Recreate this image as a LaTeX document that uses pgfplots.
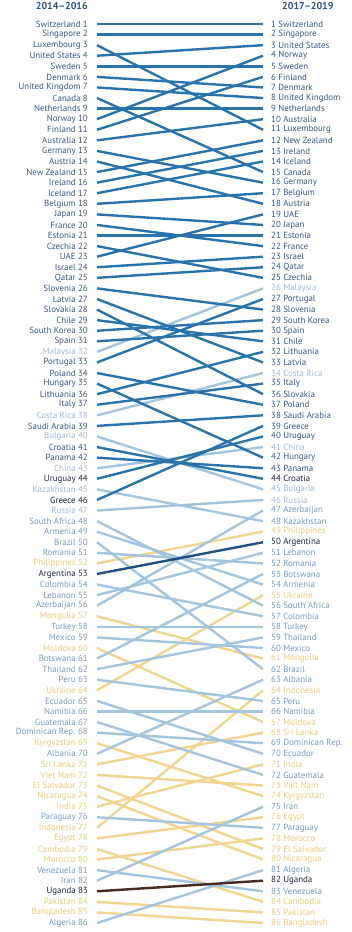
\documentclass[border=0pt]{standalone}
\usepackage{pgfplots}
\pgfplotsset{compat=1.18}
\usepackage{fontspec}
\setmainfont{PT Sans}
\definecolor{hiline}{RGB}{40,115,172}
\definecolor{umline}{RGB}{163,196,222}
\definecolor{lmline}{RGB}{242,212,145}
\definecolor{loline}{RGB}{72,42,32}
\definecolor{arline}{RGB}{30,80,130}
\definecolor{hit}{RGB}{50,88,132}
\definecolor{dkt}{RGB}{28,38,58}
\definecolor{umt}{RGB}{115,155,195}
\definecolor{umlt}{RGB}{160,186,212}
\definecolor{lmt}{RGB}{236,202,122}
\definecolor{ttl}{RGB}{40,80,125}
\newcommand{\hL}[1]{\textcolor{hit}{#1}}
\newcommand{\dL}[1]{\textcolor{dkt}{#1}}
\newcommand{\uL}[1]{\textcolor{umt}{#1}}
\newcommand{\vL}[1]{\textcolor{umlt}{#1}}
\newcommand{\yL}[1]{\textcolor{lmt}{#1}}
\begin{document}
\begin{tikzpicture}[x=1pt,y=1pt]
\useasboundingbox (0,0) rectangle (352,932);
\pgfplotsset{
  base/.style={at={(97pt,3.71pt)}, anchor=south west, scale only axis,
    width=166pt, height=909.58pt, xmin=0, xmax=1, ymin=0.5, ymax=86.5,
    y dir=reverse, clip=false, axis line style={draw=none}, xtick=\empty,
    major tick length=0pt, ytick={1,...,86},
    tick label style={font=\fontsize{8.9}{9}\selectfont, inner sep=0pt}},
  hi/.style={draw=hiline, line width=2.4pt, no marks},
  um/.style={draw=umline, line width=2.4pt, no marks},
  lm/.style={draw=lmline, line width=2.4pt, no marks},
  lo/.style={draw=loline, line width=2.4pt, no marks},
}
\begin{axis}[base, yticklabel style={anchor=east, xshift=-9pt},
  yticklabels={
{\hL{Switzerland 1}},{\hL{Singapore 2}},{\hL{Luxembourg 3}},{\hL{United States 4}},{\hL{Sweden 5}},
{\hL{Denmark 6}},{\hL{United Kingdom 7}},{\hL{Canada 8}},{\hL{Netherlands 9}},{\hL{Norway 10}},
{\hL{Finland 11}},{\hL{Australia 12}},{\hL{Germany 13}},{\hL{Austria 14}},{\hL{New Zealand 15}},
{\hL{Ireland 16}},{\hL{Iceland 17}},{\hL{Belgium 18}},{\hL{Japan 19}},{\hL{France 20}},
{\hL{Estonia 21}},{\hL{Czechia 22}},{\hL{UAE 23}},{\hL{Israel 24}},{\hL{Qatar 25}},
{\hL{Slovenia 26}},{\hL{Latvia 27}},{\hL{Slovakia 28}},{\hL{Chile 29}},{\hL{South Korea 30}},
{\hL{Spain 31}},{\vL{Malaysia 32}},{\hL{Portugal 33}},{\hL{Poland 34}},{\hL{Hungary 35}},
{\hL{Lithuania 36}},{\hL{Italy 37}},{\vL{Costa Rica 38}},{\hL{Saudi Arabia 39}},{\vL{Bulgaria 40}},
{\hL{Croatia 41}},{\hL{Panama 42}},{\vL{China 43}},{\dL{Uruguay 44}},{\vL{Kazakhstan 45}},
{\dL{Greece 46}},{\vL{Russia 47}},{\uL{South Africa 48}},{\uL{Armenia 49}},{\uL{Brazil 50}},
{\uL{Romania 51}},{\yL{Philippines 52}},{\dL{Argentina 53}},{\uL{Colombia 54}},{\uL{Lebanon 55}},
{\uL{Azerbaijan 56}},{\yL{Mongolia 57}},{\uL{Turkey 58}},{\uL{Mexico 59}},{\yL{Moldova 60}},
{\uL{Botswana 61}},{\uL{Thailand 62}},{\uL{Peru 63}},{\yL{Ukraine 64}},{\uL{Ecuador 65}},
{\uL{Namibia 66}},{\uL{Guatemala 67}},{\uL{Dominican Rep. 68}},{\yL{Kyrgyzstan 69}},{\uL{Albania 70}},
{\yL{Sri Lanka 71}},{\yL{Viet Nam 72}},{\yL{El Salvador 73}},{\yL{Nicaragua 74}},{\yL{India 75}},
{\uL{Paraguay 76}},{\yL{Indonesia 77}},{\yL{Egypt 78}},{\yL{Cambodia 79}},{\yL{Morocco 80}},
{\uL{Venezuela 81}},{\uL{Iran 82}},{\dL{Uganda 83}},{\yL{Pakistan 84}},{\yL{Bangladesh 85}},
{\uL{Algeria 86}}}]
% lower-middle income
\addplot[lm] coordinates {(0,52) (1,49)};
\addplot[lm] coordinates {(0,57) (1,61)};
\addplot[lm] coordinates {(0,60) (1,67)};
\addplot[lm] coordinates {(0,64) (1,55)};
\addplot[lm] coordinates {(0,69) (1,74)};
\addplot[lm] coordinates {(0,71) (1,68)};
\addplot[lm] coordinates {(0,72) (1,73)};
\addplot[lm] coordinates {(0,73) (1,79)};
\addplot[lm] coordinates {(0,74) (1,80)};
\addplot[lm] coordinates {(0,75) (1,71)};
\addplot[lm] coordinates {(0,77) (1,64)};
\addplot[lm] coordinates {(0,78) (1,76)};
\addplot[lm] coordinates {(0,79) (1,84)};
\addplot[lm] coordinates {(0,80) (1,78)};
\addplot[lm] coordinates {(0,84) (1,85)};
\addplot[lm] coordinates {(0,85) (1,86)};
% upper-middle income
\addplot[um] coordinates {(0,32) (1,26)};
\addplot[um] coordinates {(0,38) (1,34)};
\addplot[um] coordinates {(0,40) (1,45)};
\addplot[um] coordinates {(0,43) (1,41)};
\addplot[um] coordinates {(0,45) (1,48)};
\addplot[um] coordinates {(0,47) (1,46)};
\addplot[um] coordinates {(0,48) (1,56)};
\addplot[um] coordinates {(0,49) (1,54)};
\addplot[um] coordinates {(0,50) (1,62)};
\addplot[um] coordinates {(0,51) (1,52)};
\addplot[um] coordinates {(0,54) (1,57)};
\addplot[um] coordinates {(0,55) (1,51)};
\addplot[um] coordinates {(0,56) (1,47)};
\addplot[um] coordinates {(0,58) (1,58)};
\addplot[um] coordinates {(0,59) (1,60)};
\addplot[um] coordinates {(0,61) (1,53)};
\addplot[um] coordinates {(0,62) (1,59)};
\addplot[um] coordinates {(0,63) (1,65)};
\addplot[um] coordinates {(0,65) (1,70)};
\addplot[um] coordinates {(0,66) (1,66)};
\addplot[um] coordinates {(0,67) (1,72)};
\addplot[um] coordinates {(0,68) (1,69)};
\addplot[um] coordinates {(0,70) (1,63)};
\addplot[um] coordinates {(0,76) (1,77)};
\addplot[um] coordinates {(0,81) (1,83)};
\addplot[um] coordinates {(0,82) (1,75)};
\addplot[um] coordinates {(0,86) (1,81)};
% high income
\addplot[hi] coordinates {(0,1) (1,1)};
\addplot[hi] coordinates {(0,2) (1,2)};
\addplot[hi] coordinates {(0,3) (1,11)};
\addplot[hi] coordinates {(0,4) (1,3)};
\addplot[hi] coordinates {(0,5) (1,5)};
\addplot[hi] coordinates {(0,6) (1,7)};
\addplot[hi] coordinates {(0,7) (1,8)};
\addplot[hi] coordinates {(0,8) (1,15)};
\addplot[hi] coordinates {(0,9) (1,9)};
\addplot[hi] coordinates {(0,10) (1,4)};
\addplot[hi] coordinates {(0,11) (1,6)};
\addplot[hi] coordinates {(0,12) (1,10)};
\addplot[hi] coordinates {(0,13) (1,16)};
\addplot[hi] coordinates {(0,14) (1,18)};
\addplot[hi] coordinates {(0,15) (1,12)};
\addplot[hi] coordinates {(0,16) (1,13)};
\addplot[hi] coordinates {(0,17) (1,14)};
\addplot[hi] coordinates {(0,18) (1,17)};
\addplot[hi] coordinates {(0,19) (1,20)};
\addplot[hi] coordinates {(0,20) (1,22)};
\addplot[hi] coordinates {(0,21) (1,21)};
\addplot[hi] coordinates {(0,22) (1,25)};
\addplot[hi] coordinates {(0,23) (1,19)};
\addplot[hi] coordinates {(0,24) (1,23)};
\addplot[hi] coordinates {(0,25) (1,24)};
\addplot[hi] coordinates {(0,26) (1,28)};
\addplot[hi] coordinates {(0,27) (1,33)};
\addplot[hi] coordinates {(0,28) (1,36)};
\addplot[hi] coordinates {(0,29) (1,31)};
\addplot[hi] coordinates {(0,30) (1,29)};
\addplot[hi] coordinates {(0,31) (1,30)};
\addplot[hi] coordinates {(0,33) (1,27)};
\addplot[hi] coordinates {(0,34) (1,37)};
\addplot[hi] coordinates {(0,35) (1,42)};
\addplot[hi] coordinates {(0,36) (1,32)};
\addplot[hi] coordinates {(0,37) (1,35)};
\addplot[hi] coordinates {(0,39) (1,38)};
\addplot[hi] coordinates {(0,41) (1,44)};
\addplot[hi] coordinates {(0,42) (1,43)};
\addplot[hi] coordinates {(0,44) (1,40)};
\addplot[hi] coordinates {(0,46) (1,39)};
\addplot[hi, draw=arline] coordinates {(0,53) (1,50)};
% low income
\addplot[lo] coordinates {(0,83) (1,82)};
\end{axis}
\begin{axis}[base, yticklabel pos=right, yticklabel style={anchor=west, xshift=8pt},
  yticklabels={
{\hL{1 Switzerland}},{\hL{2 Singapore}},{\hL{3 United States}},{\hL{4 Norway}},{\hL{5 Sweden}},
{\hL{6 Finland}},{\hL{7 Denmark}},{\hL{8 United Kingdom}},{\hL{9 Netherlands}},{\hL{10 Australia}},
{\hL{11 Luxembourg}},{\hL{12 New Zealand}},{\hL{13 Ireland}},{\hL{14 Iceland}},{\hL{15 Canada}},
{\hL{16 Germany}},{\hL{17 Belgium}},{\hL{18 Austria}},{\hL{19 UAE}},{\hL{20 Japan}},
{\hL{21 Estonia}},{\hL{22 France}},{\hL{23 Israel}},{\hL{24 Qatar}},{\hL{25 Czechia}},
{\vL{26 Malaysia}},{\hL{27 Portugal}},{\hL{28 Slovenia}},{\hL{29 South Korea}},{\hL{30 Spain}},
{\hL{31 Chile}},{\hL{32 Lithuania}},{\hL{33 Latvia}},{\vL{34 Costa Rica}},{\hL{35 Italy}},
{\hL{36 Slovakia}},{\hL{37 Poland}},{\hL{38 Saudi Arabia}},{\hL{39 Greece}},{\hL{40 Uruguay}},
{\vL{41 China}},{\hL{42 Hungary}},{\hL{43 Panama}},{\dL{44 Croatia}},{\vL{45 Bulgaria}},
{\vL{46 Russia}},{\uL{47 Azerbaijan}},{\uL{48 Kazakhstan}},{\yL{49 Philippines}},{\dL{50 Argentina}},
{\uL{51 Lebanon}},{\uL{52 Romania}},{\uL{53 Botswana}},{\uL{54 Armenia}},{\yL{55 Ukraine}},
{\uL{56 South Africa}},{\uL{57 Colombia}},{\uL{58 Turkey}},{\uL{59 Thailand}},{\uL{60 Mexico}},
{\yL{61 Mongolia}},{\uL{62 Brazil}},{\uL{63 Albania}},{\yL{64 Indonesia}},{\uL{65 Peru}},
{\uL{66 Namibia}},{\yL{67 Moldova}},{\yL{68 Sri Lanka}},{\uL{69 Dominican Rep.}},{\uL{70 Ecuador}},
{\yL{71 India}},{\uL{72 Guatemala}},{\yL{73 Viet Nam}},{\yL{74 Kyrgyzstan}},{\uL{75 Iran}},
{\yL{76 Egypt}},{\uL{77 Paraguay}},{\yL{78 Morocco}},{\yL{79 El Salvador}},{\yL{80 Nicaragua}},
{\uL{81 Algeria}},{\dL{82 Uganda}},{\uL{83 Venezuela}},{\yL{84 Cambodia}},{\yL{85 Pakistan}},
{\yL{86 Bangladesh}}}]
\end{axis}
\node[anchor=east, inner sep=0pt, text=ttl, font=\bfseries\fontsize{10}{12}\selectfont] at (88,926) {2014–2016};
\node[anchor=west, inner sep=0pt, text=ttl, font=\bfseries\fontsize{10}{12}\selectfont] at (282,926) {2017–2019};
\end{tikzpicture}
\end{document}
